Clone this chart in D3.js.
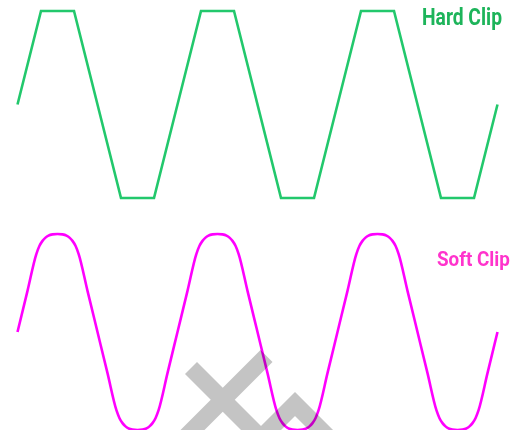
<!DOCTYPE html>
<html><head><meta charset="utf-8">
<script src="https://cdn.jsdelivr.net/npm/d3@7"></script>
<style>html,body{margin:0;padding:0;background:#fff;} svg{display:block}</style>
</head><body>
<script>
// Hard clip waveform vertices (time in samples, normalized level)
const hardX = [0, 23.5, 56.5, 103.5, 136.5, 183.5, 216.5, 263.5, 296.5, 343.5, 376.5, 423.5, 456.5, 480];
const hardY = [0, 1, 1, -1, -1, 1, 1, -1, -1, 1, 1, -1, -1, 0];

// Soft clip waveform points
const softX = [
  0,10,19,22,25,28,31,35,40,45,49,52,55,58,61,70,80,90,99,102,105,108,111,115,120,125,129,132,135,138,141,150,
  160,170,179,182,185,188,191,195,200,205,209,212,215,218,221,230,240,250,259,262,265,268,271,275,280,285,289,292,295,298,301,310,
  320,330,339,342,345,348,351,355,360,365,369,372,375,378,381,390,400,410,419,422,425,428,431,435,440,445,449,452,455,458,461,470,480
];
const softY = [
  0,.42,.8,.88,.93,.963,.984,.996,1,.996,.984,.963,.93,.88,.8,.42,0,-.42,-.8,-.88,-.93,-.963,-.984,-.996,-1,-.996,-.984,-.963,-.93,-.88,-.8,-.42,
  0,.42,.8,.88,.93,.963,.984,.996,1,.996,.984,.963,.93,.88,.8,.42,0,-.42,-.8,-.88,-.93,-.963,-.984,-.996,-1,-.996,-.984,-.963,-.93,-.88,-.8,-.42,
  0,.42,.8,.88,.93,.963,.984,.996,1,.996,.984,.963,.93,.88,.8,.42,0,-.42,-.8,-.88,-.93,-.963,-.984,-.996,-1,-.996,-.984,-.963,-.93,-.88,-.8,-.42,0
];

const seriesNames = ["Hard Clip", "Soft Clip"];

const W = 516, H = 430;
const svg = d3.select("body").append("svg").attr("width", W).attr("height", H);

const x = d3.scaleLinear().domain([0, 480]).range([17.5, 497.5]);
const yHard = d3.scaleLinear().domain([-1, 1]).range([198, 11]);
const ySoft = d3.scaleLinear().domain([-1, 1]).range([430, 234]);

const hardData = hardX.map((v, i) => [v, hardY[i]]);
const softData = softX.map((v, i) => [v, softY[i]]);

svg.append("path")
  .attr("d", d3.line().x(d => x(d[0])).y(d => yHard(d[1]))(hardData))
  .attr("fill", "none").attr("stroke", "#22c86c").attr("stroke-width", 2.6)
  .attr("stroke-linejoin", "miter");

svg.append("path")
  .attr("d", d3.line().x(d => x(d[0])).y(d => ySoft(d[1])).curve(d3.curveMonotoneX)(softData))
  .attr("fill", "none").attr("stroke", "#ff00ff").attr("stroke-width", 2.6);

// labels, horizontally scaled to the reference's condensed widths
function label(txt, x0, y0, w, size, color) {
  const t = svg.append("text").text(txt)
    .attr("x", 0).attr("y", 0)
    .attr("font-family", "Roboto, 'Noto Sans', sans-serif")
    .attr("font-weight", "bold").attr("font-size", size).attr("fill", color);
  const natural = t.node().getComputedTextLength();
  t.attr("transform", `translate(${x0},${y0}) scale(${w / natural},1)`);
}
label(seriesNames[0], 422, 25, 80, 24, "#1db45a");
label(seriesNames[1], 437, 266, 73, 20, "#ff33cc");

// gray watermark decoration
const wm = svg.append("g").style("mix-blend-mode", "multiply")
  .attr("fill", "none").attr("stroke", "#c4c4c4").attr("stroke-width", 17)
  .attr("stroke-linecap", "butt").attr("stroke-linejoin", "miter");
wm.append("path").attr("d", "M191,368 L256,433");
wm.append("path").attr("d", "M266.5,356 L180,442.5");
wm.append("path").attr("d", "M262,437 L295,404 L328,437");
</script>
</body></html>
